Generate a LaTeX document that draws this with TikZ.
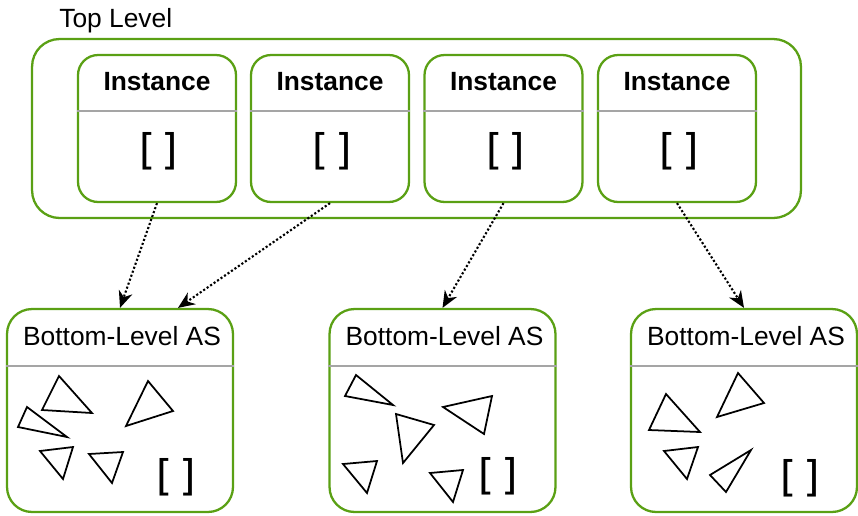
\documentclass[tikz,border=0pt]{standalone}
\usepackage{fontspec}
\setmainfont{Liberation Sans}
\newfontfamily\bracketfont{DejaVu Sans Mono}
\usetikzlibrary{arrows.meta, positioning}
\definecolor{TLgreen}{RGB}{90,160,20}
\definecolor{SEPgray}{RGB}{165,165,165}

\tikzset{
  toplevel/.style={draw=TLgreen, line width=1.3pt, rounded corners=0.55cm, minimum width=15.38cm, minimum height=3.58cm},
  instbox/.style={draw=TLgreen, line width=1.3pt, rounded corners=0.4cm, minimum width=3.16cm, minimum height=2.94cm},
  blasbox/.style={draw=TLgreen, line width=1.3pt, rounded corners=0.5cm, minimum width=4.52cm, minimum height=4.06cm},
  sepline/.style={draw=SEPgray, line width=1.1pt},
  lbl/.style={inner sep=0pt, font=\fontsize{15}{18}\selectfont},
  insttitle/.style={inner sep=0pt, font=\fontsize{15}{18}\selectfont\bfseries},
  brk/.style={inner sep=0pt, font=\bracketfont\fontsize{24}{24}\selectfont},
  tri/.style={draw=black, line width=1pt},
  ptr/.style={-{Stealth[length=9.5pt,width=8pt,inset=3pt]}, line width=1.2pt, dash pattern=on 1.2pt off 1.2pt}
}

\begin{document}
\begin{tikzpicture}[x=0.02cm, y=-0.02cm]
  \useasboundingbox (0,0) rectangle (858,515);
  \node[toplevel] (top) at (416.5,128.5) {};
  \node[lbl, anchor=base west] (toplbl) at (59,27) {Top Level};
  \foreach \i/\x in {1/157,2/330,3/503.5,4/677}{
    \node[instbox] (inst\i) at (\x,128.5) {};
    \draw[sepline] (inst\i.west |- 0,111) -- (inst\i.east |- 0,111);
    \node[insttitle, anchor=base] (insttitle\i) at (\x,90) {Instance};
    \node[brk] (instbrk\i) at (\x+2,151) {[]};
  }
  \foreach \i/\x in {1/120,2/442.5,3/744}{
    \node[blasbox] (blas\i) at (\x,410.5) {};
    \draw[sepline] (blas\i.west |- 0,366) -- (blas\i.east |- 0,366);
    \node[lbl, anchor=base] (blastitle\i) at (\x+2,345) {Bottom-Level AS};
  }
  \node[brk] (blasbrk1) at (176,477) {[]};
  \node[brk] (blasbrk2) at (498,476) {[]};
  \node[brk] (blasbrk3) at (800,478) {[]};

  \draw[tri] (59,376) -- (42,410) -- (92,413) -- cycle;
  \draw[tri] (27,407) -- (18,427) -- (67,437) -- cycle;
  \draw[tri] (148,381) -- (126,426) -- (173,411) -- cycle;
  \draw[tri] (40,451) -- (73,447) -- (63,479) -- cycle;
  \draw[tri] (89,454) -- (123,452) -- (112,483) -- cycle;

  \draw[tri] (356,375) -- (345,396) -- (393,405) -- cycle;
  \draw[tri] (396,414) -- (434,425) -- (403,463) -- cycle;
  \draw[tri] (443,407) -- (492,396) -- (484,434) -- cycle;
  \draw[tri] (343,464) -- (377,461) -- (367,493) -- cycle;
  \draw[tri] (430,473) -- (463,470) -- (453,502) -- cycle;

  \draw[tri] (666,394) -- (649,430) -- (700,432) -- cycle;
  \draw[tri] (738,373) -- (717,417) -- (764,403) -- cycle;
  \draw[tri] (664,451) -- (698,447) -- (687,479) -- cycle;
  \draw[tri] (751,450) -- (710,475) -- (726,492) -- cycle;

  \draw[ptr] (inst1.south) -- (blas1.north);
  \draw[ptr] (inst2.south) -- ([xshift=1.16cm]blas1.north);
  \draw[ptr] (inst3.south) -- (blas2.north);
  \draw[ptr] (inst4.south) -- (blas3.north);
\end{tikzpicture}
\end{document}
